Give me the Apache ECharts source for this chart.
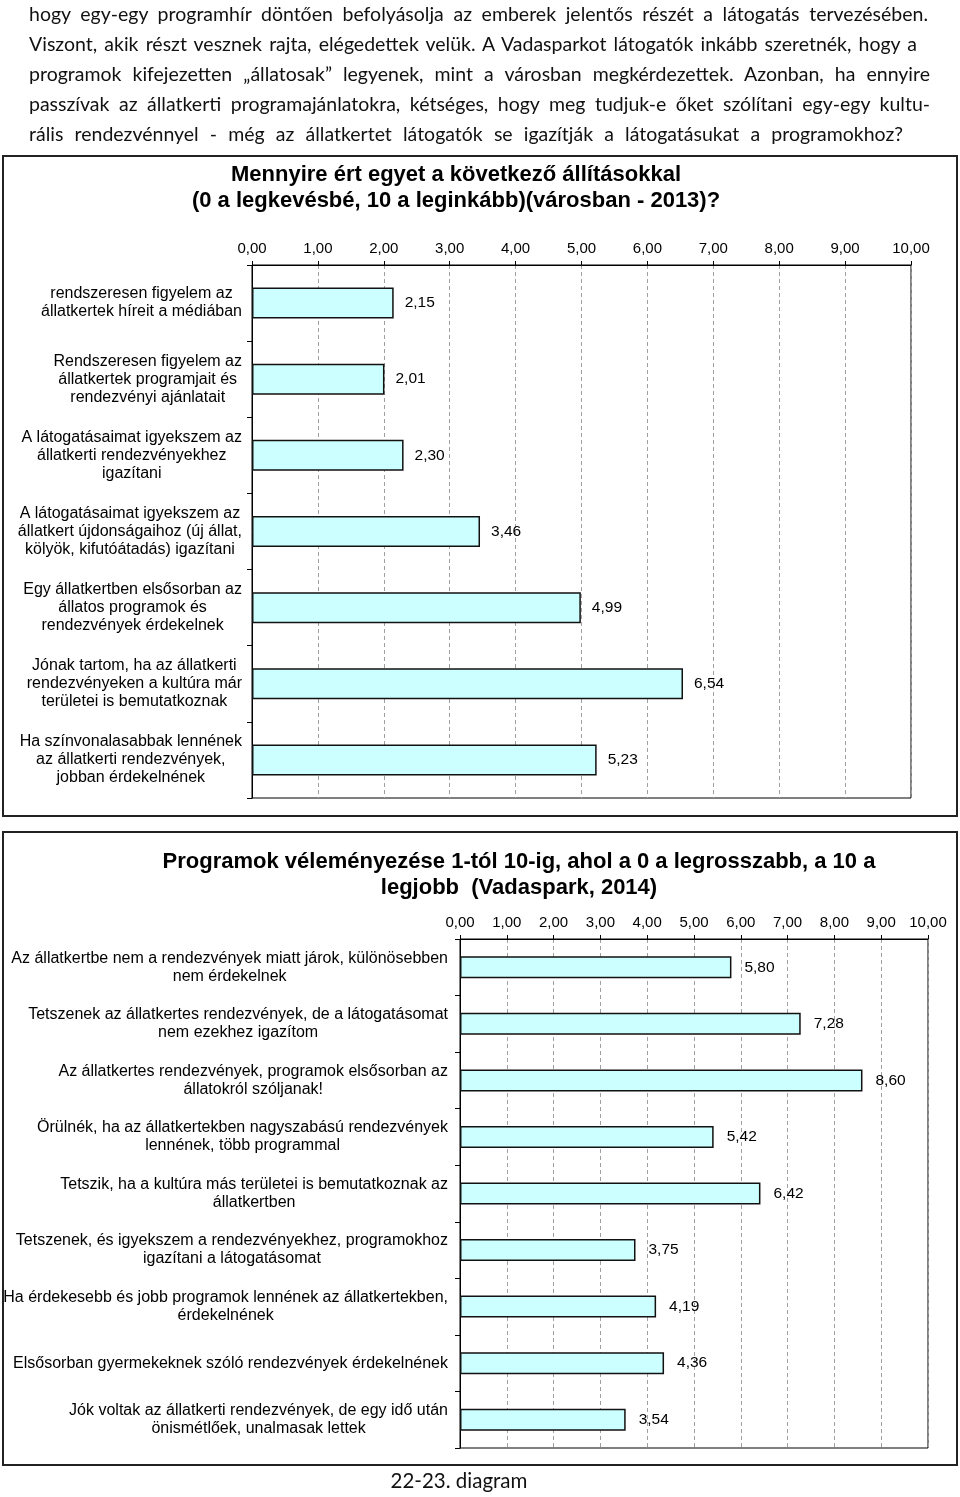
<!DOCTYPE html>
<html>
<head>
<meta charset="utf-8">
<script src="https://cdn.jsdelivr.net/npm/echarts@6/dist/echarts.min.js"></script>
<style>
  body { margin: 0; background: #fff; }
  #wrap { position: relative; width: 960px; height: 1497px; overflow: hidden; }
  #chart { position: absolute; left: 0; top: 0; width: 960px; height: 1497px; }
  .pl { position: absolute; left: 29px; height: 24px; line-height: 24px; font-family: Lato, "Open Sans", sans-serif;
        font-size: 19.5px; color: #111; text-align: justify; text-align-last: justify; white-space: nowrap; overflow: visible; }
  #foot { position: absolute; left: 359px; width: 200px; top: 1467px; text-align: center;
          font-family: Lato, "Open Sans", sans-serif; font-size: 20.5px; color: #111; line-height: 26px; }
</style>
</head>
<body>
<div id="wrap">
  <div id="chart"></div>
  <div class="pl" style="top:2px;width:899px">hogy egy-egy programhír döntően befolyásolja az emberek jelentős részét a látogatás tervezésében.</div>
  <div class="pl" style="top:32px;width:888px">Viszont, akik részt vesznek rajta, elégedettek velük. A Vadasparkot látogatók inkább szeretnék, hogy a</div>
  <div class="pl" style="top:62px;width:901px">programok kifejezetten „állatosak” legyenek, mint a városban megkérdezettek. Azonban, ha ennyire</div>
  <div class="pl" style="top:92px;width:901px">passzívak az állatkerti programajánlatokra, kétséges, hogy meg tudjuk-e őket szólítani egy-egy kultu-</div>
  <div class="pl" style="top:122px;width:874px">rális rendezvénnyel - még az állatkertet látogatók se igazítják a látogatásukat a programokhoz?</div>
  <div id="foot">22-23. diagram</div>
</div>
<script>
// ---------- data ----------
const topTitle = 'Mennyire ért egyet a következő állításokkal\n(0 a legkevésbé, 10 a leginkább)(városban - 2013)?';
const topCategories = [
  'rendszeresen figyelem az\nállatkertek híreit a médiában',
  'Rendszeresen figyelem az\nállatkertek programjait és\nrendezvényi ajánlatait',
  'A látogatásaimat igyekszem az\nállatkerti rendezvényekhez\nigazítani',
  'A látogatásaimat igyekszem az\nállatkert újdonságaihoz (új állat,\nkölyök, kifutóátadás) igazítani',
  'Egy állatkertben elsősorban az\nállatos programok és\nrendezvények érdekelnek',
  'Jónak tartom, ha az állatkerti\nrendezvényeken a kultúra már\nterületei is bemutatkoznak',
  'Ha színvonalasabbak lennének\naz állatkerti rendezvények,\njobban érdekelnének'
];
const topValues = [2.15, 2.01, 2.30, 3.46, 4.99, 6.54, 5.23];

const bottomTitle = 'Programok véleményezése 1-tól 10-ig, ahol a 0 a legrosszabb, a 10 a\nlegjobb  (Vadaspark, 2014)';
const bottomCategories = [
  'Az állatkertbe nem a rendezvények miatt járok, különösebben\nnem érdekelnek',
  'Tetszenek az állatkertes rendezvények, de a látogatásomat\nnem ezekhez igazítom',
  'Az állatkertes rendezvények, programok elsősorban az\nállatokról szóljanak!',
  'Örülnék, ha az állatkertekben nagyszabású rendezvények\nlennének, több programmal',
  'Tetszik, ha a kultúra más területei is bemutatkoznak az\nállatkertben',
  'Tetszenek, és igyekszem a rendezvényekhez, programokhoz\nigazítani a látogatásomat',
  'Ha érdekesebb és jobb programok lennének az állatkertekben,\nérdekelnének',
  'Elsősorban gyermekeknek szóló rendezvények érdekelnének',
  'Jók voltak az állatkerti rendezvények, de egy idő után\nönismétlőek, unalmasak lettek'
];
const bottomValues = [5.80, 7.28, 8.60, 5.42, 6.42, 3.75, 4.19, 4.36, 3.54];

const axisMin = 0, axisMax = 10, axisStep = 1;

// ---------- chart ----------
const FONT = '"Liberation Sans", Arial, sans-serif';
const fmt = v => Number(v).toFixed(2).replace('.', ',');
const richFmt = s => s.split('\n').map(l => '{c|' + l + '}').join('\n');

function xAx(gi, margin) {
  return {
    type: 'value', gridIndex: gi, position: 'top', min: axisMin, max: axisMax, interval: axisStep,
    axisLine: { show: true, lineStyle: { color: '#000', width: 1 } },
    axisTick: { show: true, length: 4, lineStyle: { color: '#000' } },
    splitLine: { show: true, lineStyle: { color: '#a0a0a0', type: [4, 3], width: 1 } },
    axisLabel: { margin: margin, formatter: fmt, color: '#000', fontSize: 15, fontFamily: FONT,
                 showMinLabel: true, showMaxLabel: true }
  };
}
function yAx(gi, data, margin) {
  return {
    type: 'category', gridIndex: gi, inverse: true, data: data,
    axisLine: { show: true, lineStyle: { color: '#000', width: 1 } },
    axisTick: { show: true, length: 5, lineStyle: { color: '#000' } },
    splitLine: { show: false },
    axisLabel: {
      interval: 0, margin: margin, align: 'right', formatter: richFmt,
      rich: { c: { align: 'center', fontSize: 16, lineHeight: 18, fontFamily: FONT, color: '#000' } }
    }
  };
}
function barSeries(idx, data, w, dist) {
  return {
    type: 'bar', xAxisIndex: idx, yAxisIndex: idx, data: data, barWidth: w, silent: true,
    itemStyle: { color: '#CCFFFF', borderColor: '#111', borderWidth: 1.5 },
    label: { show: true, position: 'right', distance: dist, formatter: p => fmt(p.value),
             fontSize: 15.5, color: '#000', fontFamily: FONT }
  };
}

const chart = echarts.init(document.getElementById('chart'), null, { renderer: 'canvas' });
chart.setOption({
  animation: false,
  backgroundColor: '#fff',
  grid: [
    { left: 252, top: 265, width: 659, height: 533, show: true, borderColor: '#000', borderWidth: 1, backgroundColor: 'transparent' },
    { left: 460, top: 939, width: 468, height: 509, show: true, borderColor: '#000', borderWidth: 1, backgroundColor: 'transparent' }
  ],
  xAxis: [xAx(0, 9), xAx(1, 9)],
  yAxis: [yAx(0, topCategories, 10), yAx(1, bottomCategories, 12)],
  series: [barSeries(0, topValues, 31, 11), barSeries(1, bottomValues, 22, 13)],
  graphic: [
    { type: 'rect', shape: { x: 3, y: 156, width: 954, height: 660 }, style: { fill: 'none', stroke: '#222', lineWidth: 2 } },
    { type: 'rect', shape: { x: 3, y: 832, width: 954, height: 633 }, style: { fill: 'none', stroke: '#222', lineWidth: 2 } },
    { type: 'text', x: 456, y: 162, style: { text: topTitle, align: 'center', verticalAlign: 'top',
        fontSize: 22, fontWeight: 'bold', fontFamily: FONT, lineHeight: 26, fill: '#000' } },
    { type: 'text', x: 519, y: 849, style: { text: bottomTitle, align: 'center', verticalAlign: 'top',
        fontSize: 22, fontWeight: 'bold', fontFamily: FONT, lineHeight: 26, fill: '#000' } }
  ]
});
</script>
</body>
</html>
